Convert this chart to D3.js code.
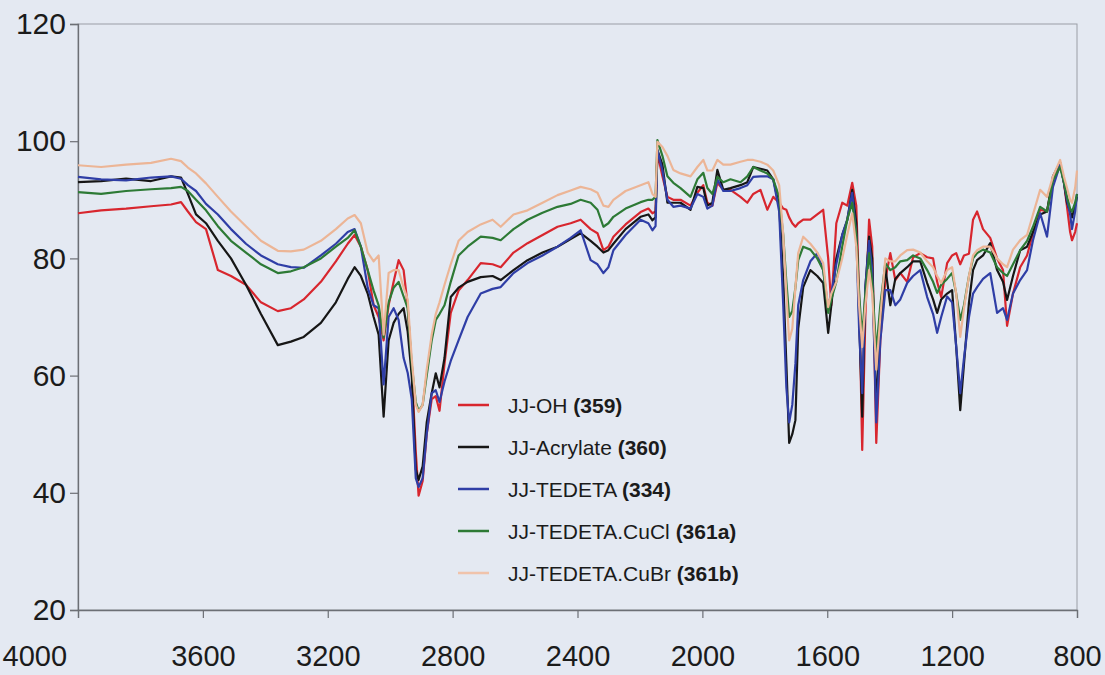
<!DOCTYPE html>
<html>
<head>
<meta charset="utf-8">
<script src="https://cdn.jsdelivr.net/npm/d3@7"></script>
<style>
  html, body { margin: 0; padding: 0; background: #e4e9f2; }
  svg { display: block; font-family: "Liberation Sans", Arial, Helvetica, sans-serif; }
</style>
</head>
<body>
<svg id="chart" width="1105" height="675"></svg>
<script>
// ---- Data (wavenumber, cm^-1) ----
const wavenumbers = [
  4000, 3926, 3846, 3766, 3702, 3670, 3648, 3622, 3590, 3552,
  3510, 3462, 3414, 3360, 3318, 3277, 3222, 3174, 3136, 3114,
  3094, 3072, 3053, 3037, 3021, 3005, 2989, 2973, 2957, 2944,
  2931, 2918, 2909, 2896, 2883, 2867, 2854, 2842, 2826, 2806,
  2781, 2752, 2710, 2672, 2646, 2605, 2560, 2512, 2464, 2422,
  2390, 2358, 2336, 2317, 2301, 2285, 2246, 2198, 2173, 2160,
  2150, 2144, 2128, 2112, 2093, 2070, 2038, 2016, 1997, 1984,
  1968, 1952, 1933, 1910, 1878, 1856, 1837, 1814, 1792, 1773,
  1754, 1741, 1731, 1722, 1712, 1702, 1693, 1677, 1654, 1632,
  1613, 1597, 1587, 1571, 1552, 1536, 1520, 1507, 1498, 1488,
  1478, 1466, 1456, 1443, 1430, 1414, 1398, 1382, 1366, 1344,
  1325, 1302, 1280, 1261, 1248, 1235, 1216, 1200, 1187, 1174,
  1162, 1146, 1133, 1120, 1101, 1078, 1056, 1037, 1024, 1005,
  982, 960, 941, 918, 896, 877, 854, 842, 832, 822,
  816, 806, 800
];

const jjOH = [
  87.7, 88.2, 88.5, 88.9, 89.2, 89.6, 88.0, 86.2, 85.0, 78.0,
  77.0, 75.5, 72.5, 71.0, 71.5, 73.0, 76.0, 79.5, 82.5, 84.0,
  82.0, 78.0, 72.0, 70.0, 66.0, 72.0, 76.0, 79.7, 78.0, 72.0,
  61.0, 47.0, 39.5, 42.0, 50.0, 56.0, 56.5, 54.0, 62.0, 70.7,
  74.5, 76.3, 79.2, 79.0, 78.5, 81.0, 82.6, 84.0, 85.4, 86.0,
  86.6, 85.0, 84.3, 81.4, 82.0, 83.7, 85.8, 87.9, 88.5, 87.7,
  88.0, 98.0, 94.0, 90.5, 90.0, 90.0, 89.0, 91.2, 92.5, 89.5,
  89.0, 92.9, 91.7, 91.7, 90.5, 89.5, 91.0, 91.7, 88.3, 90.5,
  89.5, 88.5, 88.3, 87.0, 86.0, 85.4, 86.0, 86.6, 86.6, 87.5,
  88.3, 80.0, 72.0, 86.0, 89.5, 89.0, 92.9, 89.0, 74.0, 47.3,
  70.0, 86.6, 82.0, 48.5, 66.0, 76.3, 80.9, 76.3, 77.5, 76.0,
  80.2, 80.9, 80.2, 80.0, 76.0, 73.4, 79.2, 80.5, 80.9, 79.0,
  80.5, 80.8, 86.6, 88.0, 85.0, 83.5, 80.0, 78.0, 68.5, 74.0,
  78.5, 80.5, 84.3, 88.3, 88.0, 93.4, 96.3, 93.0, 88.8, 84.5,
  83.1, 84.5, 86.0
];

const jjAcrylate = [
  93.0, 93.2, 93.6, 93.2, 94.0, 93.8, 91.0, 87.5, 86.0, 83.0,
  80.0, 75.5, 70.5, 65.2, 65.8, 66.6, 69.0, 72.5, 76.5, 78.5,
  77.0, 74.0, 70.0, 67.0, 53.0, 66.0, 69.0, 70.5, 71.5, 67.5,
  60.0, 44.0, 42.2, 44.5, 52.0, 57.0, 60.4, 58.0, 63.0, 73.4,
  75.0, 76.0, 76.8, 77.0, 76.3, 78.0, 79.7, 81.0, 82.0, 83.3,
  84.3, 83.0, 82.0, 81.0, 81.4, 82.5, 85.0, 87.1, 87.5, 86.5,
  87.0, 98.5, 96.0, 89.5, 89.5, 89.5, 88.3, 92.2, 92.0, 89.0,
  89.5, 95.1, 91.7, 92.0, 92.5, 93.0, 95.6, 95.3, 95.0, 93.5,
  89.0, 76.3, 62.0, 48.5, 50.0, 52.4, 68.0, 75.1, 78.0, 77.0,
  75.8, 67.3, 72.0, 80.0, 84.0, 86.5, 91.7, 86.0, 70.0, 53.0,
  75.0, 83.7, 80.0, 54.6, 68.0, 78.5, 72.0, 76.5, 77.5, 78.5,
  79.5, 79.5, 75.8, 73.0, 70.7, 73.0, 74.0, 74.6, 65.0, 54.1,
  62.0, 72.5, 78.0, 79.7, 80.5, 82.6, 78.0, 76.0, 72.9, 77.0,
  81.4, 82.0, 84.5, 87.5, 88.0, 94.0, 96.3, 93.0, 89.5, 88.0,
  87.0, 89.0, 90.5
];

const jjTEDETA = [
  93.9, 93.5, 93.3, 93.8, 94.0, 93.6, 92.5, 91.5, 89.3, 87.5,
  85.0, 82.5, 80.5, 79.0, 78.5, 78.4, 80.5, 82.5, 84.5, 85.0,
  82.0, 75.0, 72.0, 71.5, 58.5, 70.0, 71.5, 69.5, 63.0, 60.5,
  56.0, 42.5, 41.0, 42.5, 50.0, 57.0, 57.5, 55.5, 59.0, 62.5,
  66.0, 70.0, 74.0, 74.8, 75.1, 77.5, 79.2, 80.5, 82.0, 83.5,
  84.8, 79.7, 79.0, 77.5, 78.5, 81.4, 84.0, 86.6, 86.0, 84.8,
  85.5, 98.5, 95.0, 90.0, 88.8, 89.0, 88.5, 91.0, 90.5, 88.5,
  89.0, 93.5, 91.5, 91.5, 92.0, 92.5, 93.9, 94.0, 94.0, 93.5,
  88.0, 72.0, 58.0, 52.0, 55.0, 62.0, 72.0, 76.3, 79.5, 80.9,
  78.0, 71.7, 74.0, 79.0, 84.0, 86.6, 91.2, 84.0, 68.0, 57.0,
  75.0, 83.0, 78.0, 52.0, 66.0, 74.6, 74.6, 72.0, 73.0, 75.8,
  77.0, 78.0, 73.4, 70.5, 67.3, 70.0, 73.5, 72.5, 65.0, 57.0,
  63.0, 70.0, 74.0, 75.1, 76.5, 77.5, 70.7, 71.5, 69.5, 74.0,
  76.3, 78.0, 83.1, 87.7, 83.7, 92.2, 96.0, 93.0, 90.0, 87.5,
  85.0, 88.0, 91.0
];

const jjCuCl = [
  91.3, 91.0, 91.5, 91.8, 92.0, 92.2, 91.5, 90.0, 88.2, 85.5,
  83.0, 81.0, 79.0, 77.5, 77.8, 78.5, 80.0, 82.0, 83.5, 84.8,
  82.0, 78.0, 74.5, 72.0, 66.5, 72.5, 75.0, 76.0, 73.5, 71.5,
  62.0, 55.5, 54.0, 55.0, 60.0, 66.0, 69.5, 70.5, 72.0, 76.0,
  80.5, 82.0, 83.7, 83.5, 83.1, 85.0, 86.6, 87.8, 88.8, 89.3,
  90.0, 89.5, 88.3, 85.4, 86.0, 87.1, 88.5, 89.6, 90.0, 90.0,
  90.5, 100.2, 97.5, 94.0, 92.9, 92.0, 90.5, 93.5, 94.6, 92.0,
  91.0, 93.9, 93.0, 93.5, 93.0, 94.0, 95.6, 95.0, 94.5, 93.5,
  90.5, 84.0, 76.0, 70.0, 71.0, 75.0, 79.7, 82.0, 81.5, 80.0,
  78.0, 70.7, 73.0, 76.0, 82.0, 86.6, 89.5, 84.0, 74.0, 66.6,
  74.0, 80.9, 76.0, 64.0, 72.0, 79.2, 78.0, 78.5, 79.5, 79.7,
  80.5, 80.0, 78.0, 76.0, 74.1, 75.5, 76.5, 77.5, 74.0, 69.5,
  72.0, 77.0, 80.0, 80.9, 81.5, 81.0, 78.5, 77.5, 77.0, 79.0,
  81.4, 83.0, 85.4, 88.8, 88.0, 93.4, 95.6, 93.0, 90.5, 88.5,
  88.0, 89.5, 91.0
];

const jjCuBr = [
  95.9, 95.6, 96.0, 96.3, 97.0, 96.6, 95.5, 94.5, 92.8, 90.5,
  88.0, 85.5, 83.0, 81.3, 81.2, 81.5, 83.0, 85.0, 86.8, 87.4,
  86.0, 81.0, 79.5, 80.5, 67.0, 77.5, 78.0, 78.0, 75.0, 73.0,
  63.0, 55.0, 53.8, 55.0, 61.0, 67.0, 70.5, 72.5, 75.5, 79.0,
  83.0, 84.5, 85.8, 86.6, 85.4, 87.5, 88.2, 89.5, 90.8, 91.6,
  92.2, 91.8, 91.2, 89.0, 88.8, 90.0, 91.5, 92.5, 93.0, 91.0,
  90.5, 99.9, 99.0, 97.5, 95.1, 94.5, 94.0, 95.6, 96.8, 95.0,
  95.0, 96.8, 96.0, 96.0, 96.5, 96.8, 96.8, 96.5, 96.0, 95.0,
  92.5, 84.0, 74.0, 66.0, 68.0, 75.0, 80.9, 83.7, 82.5, 81.0,
  79.2, 71.7, 74.0, 76.0, 80.0, 84.0, 87.7, 82.0, 72.0, 64.9,
  72.0, 78.0, 74.0, 61.0, 70.0, 80.0, 79.5, 79.5, 80.5, 81.4,
  81.5, 81.0, 79.5, 78.5, 77.0, 75.8, 78.0, 78.5, 74.0, 66.6,
  71.5, 77.0, 80.5, 81.4, 82.0, 82.0, 80.0, 79.0, 78.5, 81.5,
  83.1, 84.0, 87.5, 91.7, 90.5, 94.0, 96.8, 94.0, 92.0, 90.0,
  89.5, 92.0, 95.0
];

const seriesNames = ["JJ-OH", "JJ-Acrylate", "JJ-TEDETA", "JJ-TEDETA.CuCl", "JJ-TEDETA.CuBr"];
const seriesCodes = ["(359)", "(360)", "(334)", "(361a)", "(361b)"];
const seriesValues = [jjOH, jjAcrylate, jjTEDETA, jjCuCl, jjCuBr];
const seriesColors = ["#d8262e", "#161616", "#2f3ea6", "#2d7a35", "#ecb596"];
const legendColors = ["#d8262e", "#161616", "#2f3ea6", "#2d7a35", "#f0c3ab"];

const xTicks = [4000, 3600, 3200, 2800, 2400, 2000, 1600, 1200, 800];
const yTicks = [20, 40, 60, 80, 100, 120];

// ---- Layout ----
const svg = d3.select("#chart");
const margin = { left: 78, right: 28, top: 24, bottom: 65 };
const W = 1105, H = 675;

const x = d3.scaleLinear().domain([4000, 800]).range([margin.left, W - margin.right]);
const y = d3.scaleLinear().domain([20, 120]).range([H - margin.bottom, margin.top]);

// plot frame
svg.append("rect")
  .attr("x", x(4000)).attr("y", y(120))
  .attr("width", x(800) - x(4000)).attr("height", y(20) - y(120))
  .attr("fill", "none").attr("stroke", "#9a9ea6").attr("stroke-width", 1);

// axes
const yAxis = d3.axisLeft(y).tickValues(yTicks).tickSize(8).tickPadding(4).tickFormat(d3.format("d"));
const gy = svg.append("g").attr("transform", `translate(${x(4000)},0)`).call(yAxis);
gy.select(".domain").attr("stroke", "#6c6f75").attr("stroke-width", 1.3);
gy.selectAll(".tick line").attr("stroke", "#6c6f75").attr("stroke-width", 1.2);
gy.selectAll("text").attr("font-size", 30).attr("fill", "#1b1b1b")
  .attr("font-family", "'Liberation Sans', Arial, sans-serif");

const xAxis = d3.axisBottom(x).tickValues(xTicks).tickSize(8).tickPadding(27).tickFormat(d3.format("d"));
const gx = svg.append("g").attr("transform", `translate(0,${y(20)})`).call(xAxis);
gx.select(".domain").attr("stroke", "#6c6f75").attr("stroke-width", 1.3);
gx.selectAll(".tick line").attr("stroke", "#6c6f75").attr("stroke-width", 1.2);
gx.selectAll("text").attr("font-size", 29).attr("fill", "#1b1b1b")
  .attr("font-family", "'Liberation Sans', Arial, sans-serif");
// keep the first label inside the picture, as in the reference
gx.selectAll(".tick text").filter(d => d === xTicks[0])
  .attr("text-anchor", "start").attr("x", 2 - x(xTicks[0]));

// lines
const line = d3.line()
  .x((d, i) => x(wavenumbers[i]))
  .y(d => y(d))
  .curve(d3.curveLinear);

svg.append("g").selectAll("path")
  .data(seriesValues)
  .join("path")
  .attr("d", d => line(d))
  .attr("fill", "none")
  .attr("stroke", (d, i) => seriesColors[i])
  .attr("stroke-width", 2.2)
  .attr("stroke-linejoin", "round");

// legend
const legend = svg.append("g").attr("transform", "translate(458,405)");
const rows = legend.selectAll("g").data(seriesNames).join("g")
  .attr("transform", (d, i) => `translate(0,${i * 42})`);
rows.append("line")
  .attr("x1", 0).attr("x2", 31).attr("y1", 0).attr("y2", 0)
  .attr("stroke", (d, i) => legendColors[i]).attr("stroke-width", 2.5);
const txt = rows.append("text")
  .attr("x", 50).attr("y", 0).attr("dy", "0.36em")
  .attr("font-size", 21).attr("fill", "#1b1b1b");
txt.append("tspan").text(d => d + " ");
txt.append("tspan").attr("font-weight", "bold").text((d, i) => seriesCodes[i]);
</script>
</body>
</html>
